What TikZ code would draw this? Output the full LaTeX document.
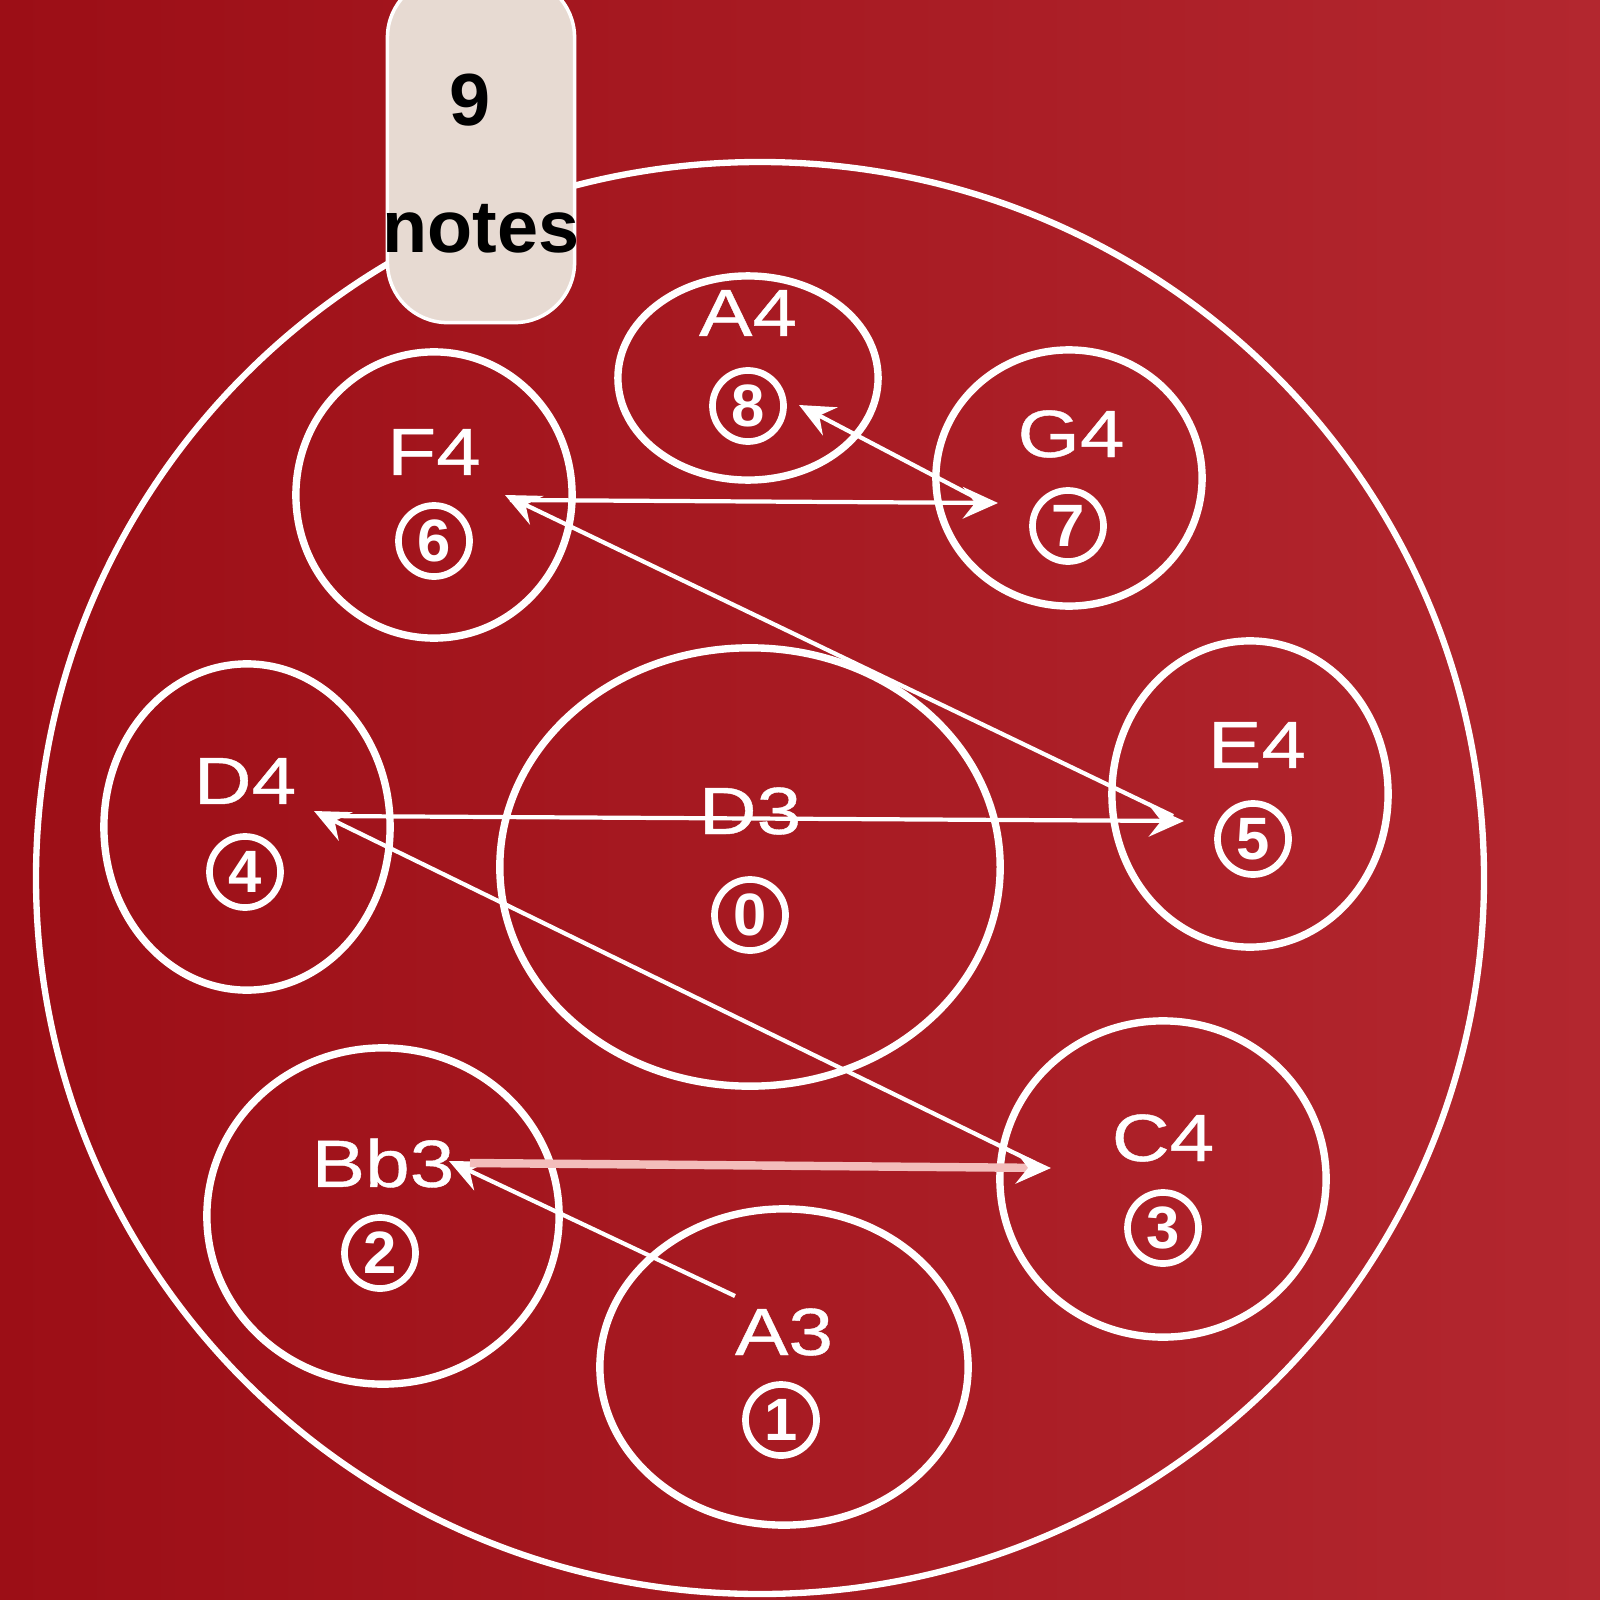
\documentclass[tikz,border=0pt]{standalone}
\usepackage{fontspec}
\setmainfont{Liberation Sans}
\newfontfamily\padfont{Liberation Sans}[FakeStretch=1.2, FakeBold=0.6]
\usetikzlibrary{arrows.meta}
\usetikzlibrary{shapes.geometric}

\definecolor{bgleft}{HTML}{9C0E16}
\definecolor{bgmid}{HTML}{A8161F}
\definecolor{bgright}{HTML}{B3272F}
\definecolor{tagfill}{HTML}{E7DAD2}
\definecolor{pinkline}{HTML}{F3BDBB}

\tikzset{
  pad/.style={ellipse, draw=white, line width=2.1pt, inner sep=0pt},
  notename/.style={text=white, inner sep=0pt, font=\padfont\fontsize{19pt}{19pt}\selectfont},
  notenum/.style={circle, draw=white, line width=1.9pt, text=white, inner sep=0pt,
    minimum size=0.71cm, font=\bfseries\fontsize{17pt}{17pt}\selectfont},
  seq/.style={white, line width=1.2pt, -{Stealth[length=10pt,width=9pt,inset=3.5pt]}},
  tagtext/.style={text=black, inner sep=0pt, font=\bfseries\fontsize{21pt}{21pt}\selectfont},
}

\begin{document}
\begin{tikzpicture}[x=0.01cm, y=-0.01cm]
\useasboundingbox (0,0) rectangle (1600,1600);
\shade[left color=bgleft, middle color=bgmid, right color=bgright] (0,0) rectangle (1600,1600);
% outer rim of the drum
\draw[white, line width=1.8pt] (760,878) ellipse [x radius=724, y radius=716];
% tone fields
\foreach \id/\cx/\cy/\rx/\ry in {n8/748/378/130/102, n6/434/495/138/143, n7/1069/478/133/128,
  n4/247/827/143/163, n0/750/867/250/219, n5/1250/794/138/153,
  n2/383/1216/176/168, n3/1163/1179/163/158, n1/784/1367/184/158}
 \node[pad, minimum width={0.02cm*\rx}, minimum height={0.02cm*\ry}] (\id) at (\cx,\cy) {};
\foreach \id/\lab/\lx/\ly/\num/\nx/\ny in {n8/A4/748/313/8/748/406, n6/F4/434/452/6/434/541,
  n7/G4/1071/434/7/1068/526, n4/D4/245/781/4/245/872, n0/D3/750/811/0/750/915,
  n5/E4/1257/745/5/1253/839, n2/Bb3/383/1163/2/380/1253, n3/C4/1163/1138/3/1163/1228,
  n1/A3/784/1332/1/781/1420}
{
 \node[notename] (\id-name) at (\lx,\ly) {\lab};
 \node[notenum] (\id-num) at (\nx,\ny) {\num};
}
% playing order
\coordinate (s1) at (735,1296);
\coordinate (t2) at (449,1161);
\coordinate (s2) at (470,1163);
\coordinate (t3) at (1051,1168);
\coordinate (s3) at (1035,1163);
\coordinate (t4) at (314,811);
\coordinate (s4) at (321,816);
\coordinate (t5) at (1184,821);
\coordinate (s5) at (1173,816);
\coordinate (t6) at (505,495);
\coordinate (s6) at (510,500);
\coordinate (t7) at (998,503);
\coordinate (s7) at (980,500);
\coordinate (t8) at (799,405);
\draw[seq] (s1) -- (t2);
\draw[seq, draw=pinkline, line width=2.4pt, -{Stealth[length=10pt,width=9pt,inset=3.5pt,color=white]}] (s2) -- (t3);
\draw[seq] (s3) -- (t4);
\draw[seq] (s4) -- (t5);
\draw[seq] (s5) -- (t6);
\draw[seq] (s6) -- (t7);
\draw[seq] (s7) -- (t8);
% tag
\node[draw=white, fill=tagfill, line width=1pt, rounded corners=0.6cm,
  minimum width=1.87cm, minimum height=3.45cm] (tag) at (481,150) {};
\node[tagtext] (tag-num) at (470,100) {9};
\node[tagtext] (tag-word) at (481,229) {notes};
\end{tikzpicture}
\end{document}
